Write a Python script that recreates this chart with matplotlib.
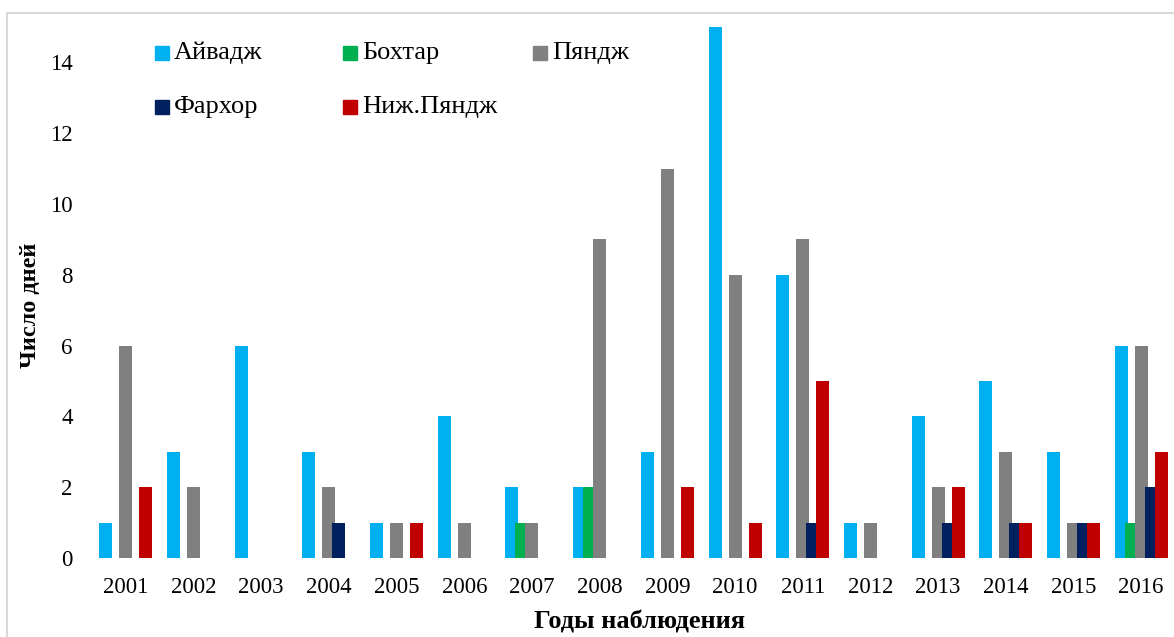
import matplotlib
matplotlib.use("Agg")
import matplotlib.pyplot as plt
import numpy as np
from matplotlib.patches import Rectangle
from matplotlib.lines import Line2D

plt.rcParams['font.family'] = ['Liberation Serif', 'DejaVu Serif']

years = ['2001', '2002', '2003', '2004', '2005', '2006', '2007', '2008',
         '2009', '2010', '2011', '2012', '2013', '2014', '2015', '2016']
series_names = ['Айвадж', 'Бохтар', 'Пяндж', 'Фархор', 'Ниж.Пяндж']
aivadzh   = [1, 3, 6, 3, 1, 4, 2, 2, 3, 15, 8, 1, 4, 5, 3, 6]
bokhtar   = [0, 0, 0, 0, 0, 0, 1, 2, 0, 0, 0, 0, 0, 0, 0, 1]
pyandzh   = [6, 2, 0, 2, 1, 1, 1, 9, 11, 8, 9, 1, 2, 3, 1, 6]
farkhor   = [0, 0, 0, 1, 0, 0, 0, 0, 0, 0, 1, 0, 1, 1, 1, 2]
nizh_pyandzh = [2, 0, 0, 0, 1, 0, 0, 0, 2, 1, 5, 0, 2, 1, 1, 3]
yticks = [0, 2, 4, 6, 8, 10, 12, 14]

colors = ['#00B0F0', '#00B050', '#808080', '#002060', '#C00000']
series = [aivadzh, bokhtar, pyandzh, farkhor, nizh_pyandzh]

W, H = 1174, 637
fig = plt.figure(figsize=(W / 100, H / 100), dpi=100)
ax_left, ax_right, ax_top, ax_bot = 92, 1175, 27, 558
ax = fig.add_axes([ax_left / W, 1 - ax_bot / H, (ax_right - ax_left) / W, (ax_bot - ax_top) / H])

group_px = (ax_right - ax_left) / 16
step = 10 / group_px
bw = 13 / group_px
x = np.arange(len(years))
for k, (vals, c, name) in enumerate(zip(series, colors, series_names)):
    ax.bar(x + (k - 2) * step, vals, width=bw, color=c, linewidth=0, label=name, zorder=2 + k)

ax.set_xlim(-0.5, len(years) - 0.5)
ax.set_ylim(0, 15)
ax.set_yticks(yticks)
ax.set_yticklabels([str(v) for v in yticks])
ax.set_xticks(x)
ax.set_xticklabels(years)
ax.tick_params(axis='both', length=0, labelsize=16.5, colors='black')
ax.tick_params(axis='y', pad=14)
ax.tick_params(axis='x', pad=14)
for s in ax.spines.values():
    s.set_visible(False)
ax.patch.set_alpha(0)

fig.text(640 / W, 1 - 622 / H, 'Годы наблюдения', ha='center', va='center',
         fontsize=19, fontweight='bold')
fig.text(30 / W, 1 - 305 / H, 'Число дней', ha='center', va='center',
         rotation=90, fontsize=17.5, fontweight='bold')

# legend (manual, equal column widths like the original)
leg_pos = [(155, 53), (343, 53), (533, 53), (155, 107), (343, 107)]
sq = 14
for (px, py), c, name in zip(leg_pos, colors, series_names):
    fig.patches.append(Rectangle((px / W, 1 - (py + sq / 2) / H), sq / W, sq / H,
                                 transform=fig.transFigure, color=c, figure=fig))
    fig.text((px + sq + 5) / W, 1 - py / H, name, ha='left', va='center', fontsize=19)

# chart border
fig.add_artist(Line2D([7 / W, 1], [1 - 13 / H, 1 - 13 / H], transform=fig.transFigure,
                      color='#D9D9D9', lw=1.5))
fig.add_artist(Line2D([7 / W, 7 / W], [0, 1 - 13 / H], transform=fig.transFigure,
                      color='#D9D9D9', lw=1.5))

fig.savefig('out.png', dpi=100)
